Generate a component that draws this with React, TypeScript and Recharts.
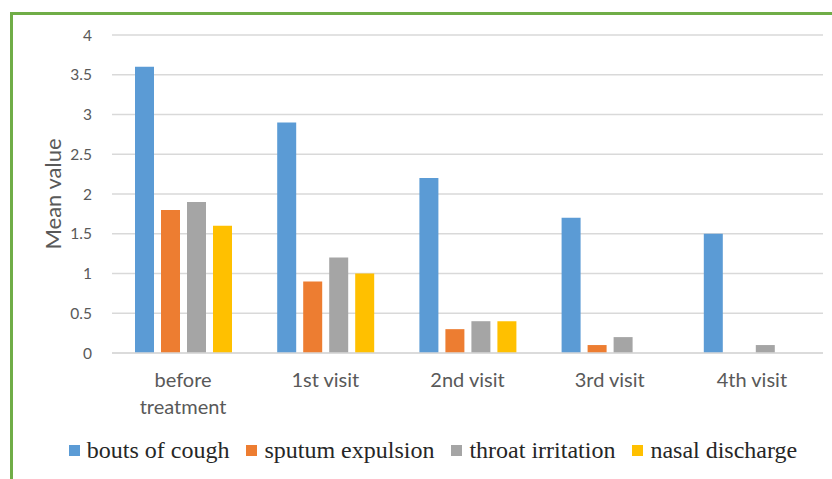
import { BarChart, Bar, XAxis, YAxis, CartesianGrid, Legend, Label, Text } from "recharts";

/* ─── Data ──────────────────────────────────────────────────── */

const visits = ["before treatment", "1st visit", "2nd visit", "3rd visit", "4th visit"];
const boutsOfCough = [3.6, 2.9, 2.2, 1.7, 1.5];
const sputumExpulsion = [1.8, 0.9, 0.3, 0.1, 0];
const throatIrritation = [1.9, 1.2, 0.4, 0.2, 0.1];
const nasalDischarge = [1.6, 1.0, 0.4, 0, 0];
const yTicks = [0, 0.5, 1, 1.5, 2, 2.5, 3, 3.5, 4];

const series = [
  { key: "cough", name: "bouts of cough", color: "#5B9BD5", values: boutsOfCough },
  { key: "sputum", name: "sputum expulsion", color: "#ED7D31", values: sputumExpulsion },
  { key: "throat", name: "throat irritation", color: "#A5A5A5", values: throatIrritation },
  { key: "nasal", name: "nasal discharge", color: "#FFC000", values: nasalDischarge },
];

const data = visits.map((v, i) => {
  const row: Record<string, string | number> = { visit: v };
  series.forEach((s) => (row[s.key] = s.values[i]));
  return row;
});

const AXIS_FONT = "Lato, 'Open Sans', sans-serif";
const TEXT_GREY = "#595959";

/* ─── Pieces ────────────────────────────────────────────────── */

// Text measures words with its style prop, so the font goes in there too
function VisitTick(props: any) {
  const { x, y, payload } = props;
  return (
    <Text
      x={x}
      y={y}
      width={110}
      textAnchor="middle"
      verticalAnchor="start"
      lineHeight={27}
      fill={TEXT_GREY}
      fontSize={20}
      fontFamily={AXIS_FONT}
      style={{ fontSize: 20, fontFamily: AXIS_FONT }}
    >
      {payload.value}
    </Text>
  );
}

function SeriesLegend() {
  return (
    <div
      style={{
        display: "flex",
        justifyContent: "center",
        alignItems: "center",
        gap: 17,
        fontFamily: "'Liberation Serif', 'Times New Roman', serif",
        fontSize: 24,
        color: "#262626",
      }}
    >
      {series.map((s) => (
        <div key={s.key} style={{ display: "flex", alignItems: "center", gap: 7 }}>
          <span style={{ width: 11, height: 11, background: s.color, display: "inline-block" }} />
          <span>{s.name}</span>
        </div>
      ))}
    </div>
  );
}

/* ─── Component ─────────────────────────────────────────────── */

export default function App() {
  return (
    <div style={{ position: "fixed", left: 0, top: 0, width: 832, height: 479, background: "#fff", overflow: "hidden" }}>
      <BarChart
        width={832}
        height={479}
        data={data}
        margin={{ top: 35, right: 9, left: 0, bottom: 66 }}
        barSize={19}
        barGap={7}
      >
        <CartesianGrid vertical={false} stroke="#D9D9D9" strokeWidth={1.5} />
        <XAxis
          dataKey="visit"
          height={60}
          tickLine={false}
          tickSize={0}
          tickMargin={20}
          axisLine={{ stroke: "#D9D9D9", strokeWidth: 1.5 }}
          tick={<VisitTick />}
          interval={0}
        />
        <YAxis
          width={112}
          domain={[0, 4]}
          ticks={yTicks}
          tickLine={false}
          tickSize={0}
          tickMargin={20}
          axisLine={false}
          tick={{ fill: TEXT_GREY, fontSize: 15.5, fontFamily: AXIS_FONT }}
        >
          <Label
            content={({ viewBox }: any) => (
              <text
                x={52}
                y={viewBox.y + viewBox.height / 2}
                transform={`rotate(-90, 52, ${viewBox.y + viewBox.height / 2})`}
                textAnchor="middle"
                dominantBaseline="central"
                fill={TEXT_GREY}
                fontSize={22}
                fontFamily={AXIS_FONT}
              >
                Mean value
              </text>
            )}
          />
        </YAxis>
        <Legend
          layout="horizontal"
          verticalAlign="middle"
          content={() => <SeriesLegend />}
          wrapperStyle={{ top: 437, left: 17, width: 832, height: 30 }}
        />
        {series.map((s) => (
          <Bar key={s.key} dataKey={s.key} name={s.name} fill={s.color} isAnimationActive={false} />
        ))}
      </BarChart>
      <div
        style={{
          position: "absolute",
          left: 10,
          top: 12,
          right: -10,
          bottom: -10,
          borderTop: "3px solid #70AD47",
          borderLeft: "3px solid #70AD47",
          pointerEvents: "none",
        }}
      />
    </div>
  );
}
